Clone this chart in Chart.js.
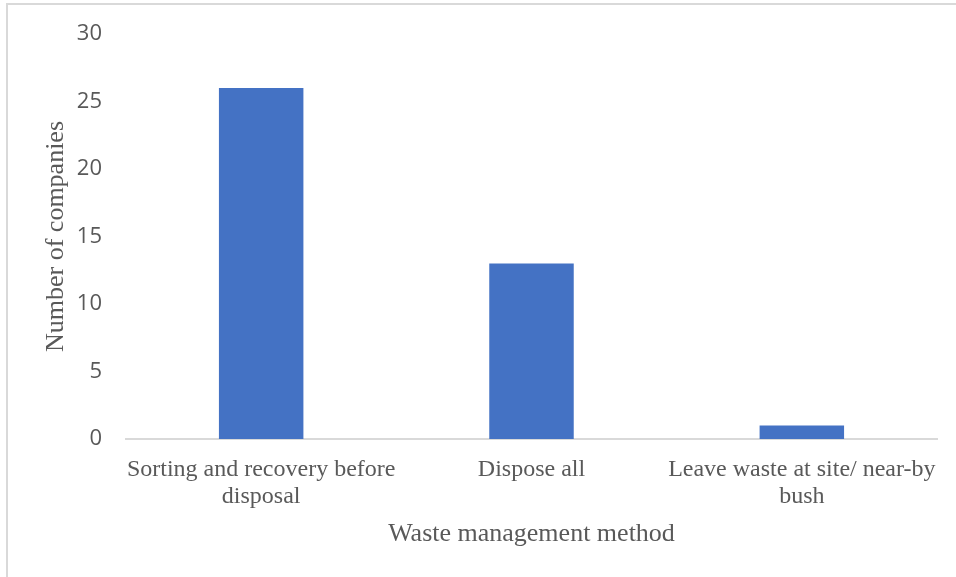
<!DOCTYPE html>
<html>
<head>
<meta charset="utf-8">
<script src="https://cdn.jsdelivr.net/npm/chart.js@4"></script>
<style>
  body { margin: 0; background: #fff; }
  #caja { position: relative; width: 956px; height: 577px; overflow: hidden; }
  #marco { position: absolute; left: 6px; top: 3px; width: 1000px; height: 1000px;
           border-top: 2px solid #d9d9d9; border-left: 2px solid #d9d9d9; pointer-events: none; }
</style>
</head>
<body>
<div id="caja">
  <canvas id="myChart" width="956" height="577"></canvas>
  <div id="marco"></div>
</div>
<script>
// Datos de la gráfica
var categorias = [
  ['Sorting and recovery before', 'disposal'],
  ['Dispose all'],
  ['Leave waste at site/ near-by', 'bush']
];
var empresas = [26, 13, 1];
var ejeYMin = 0;
var ejeYMax = 30;
var ejeYPaso = 5;
var tituloX = 'Waste management method';
var tituloY = 'Number of companies';

var gris = '#595959';
var serif = "'Liberation Serif', 'Times New Roman', serif";

// Obtener el contexto del canvas
var ctx = document.getElementById('myChart').getContext('2d');

// Crear la gráfica de barras
var myChart = new Chart(ctx, {
  type: 'bar',
  data: {
    labels: categorias,
    datasets: [{
      label: tituloY,
      data: empresas,
      backgroundColor: '#4472C4',
      borderWidth: 0,
      categoryPercentage: 1,
      barPercentage: 0.3125
    }]
  },
  options: {
    responsive: false,
    animation: false,
    layout: { padding: { left: 0, right: 19, top: 34, bottom: 0 } },
    plugins: {
      legend: { display: false },
      tooltip: { enabled: false }
    },
    scales: {
      x: {
        grid: { display: false },
        border: { display: true, color: '#d9d9d9', width: 2 },
        ticks: {
          color: gris,
          font: { family: serif, size: 24, lineHeight: 1.125 },
          padding: 9,
          maxRotation: 0,
          autoSkip: false
        },
        title: {
          display: true,
          text: tituloX,
          color: gris,
          font: { family: serif, size: 26, lineHeight: 1.2 },
          padding: { top: 0, bottom: 27 }
        },
        afterFit: function(scale) { scale.height = 138; }
      },
      y: {
        min: ejeYMin,
        max: ejeYMax,
        grid: { display: false },
        border: { display: false },
        ticks: {
          stepSize: ejeYPaso,
          color: gris,
          font: { family: "'Open Sans', sans-serif", size: 22 },
          padding: 16
        },
        title: {
          display: true,
          text: tituloY,
          color: gris,
          font: { family: serif, size: 26, lineHeight: 1.2 },
          padding: { top: 41, bottom: 0 }
        },
        afterFit: function(scale) { scale.width = 126; }
      }
    }
  }
});
</script>
</body>
</html>
